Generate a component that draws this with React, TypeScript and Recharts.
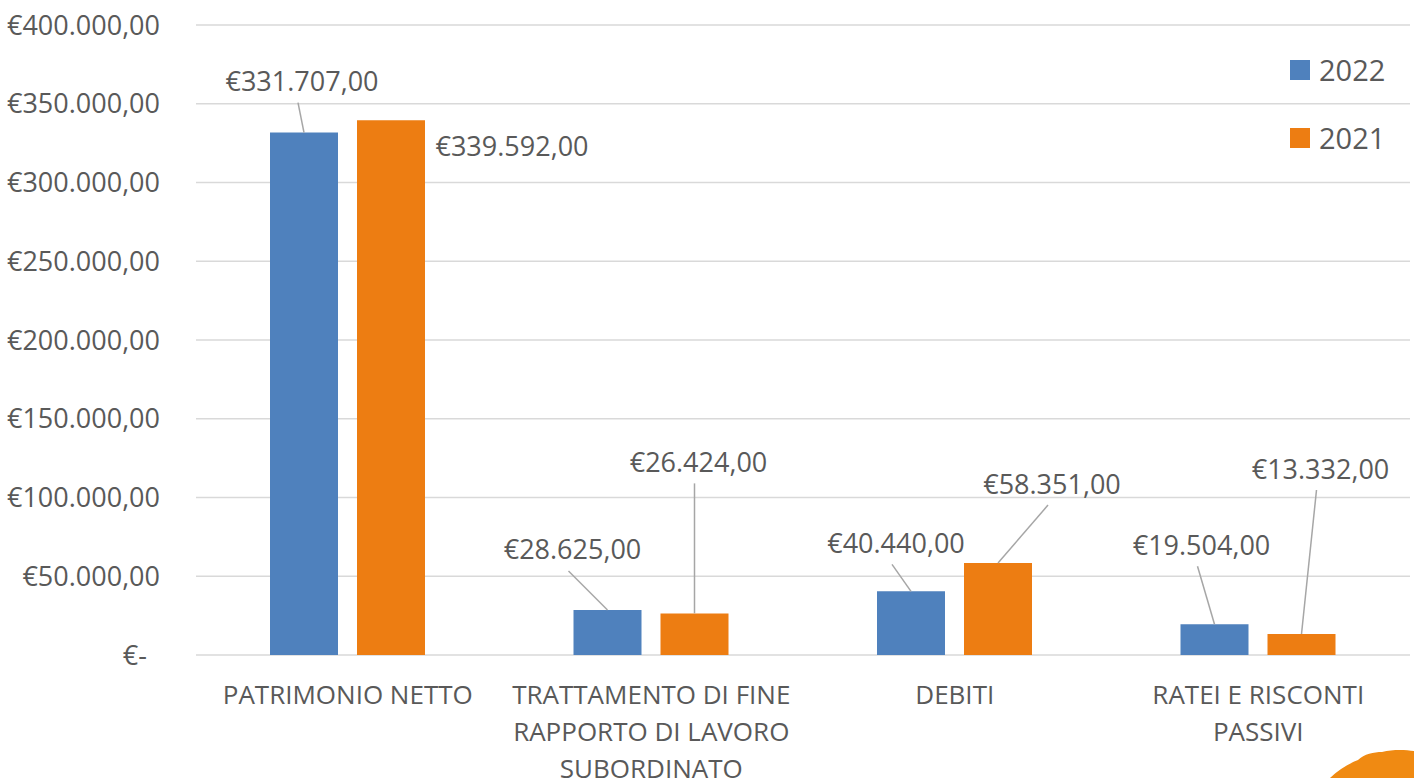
import React from 'react';
import {
  BarChart,
  Bar,
  XAxis,
  YAxis,
  CartesianGrid,
  Legend,
  LabelList,
} from 'recharts';

const categories = [
  'PATRIMONIO NETTO',
  'TRATTAMENTO DI FINE\nRAPPORTO DI LAVORO\nSUBORDINATO',
  'DEBITI',
  'RATEI E RISCONTI\nPASSIVI',
];
const values2022 = [331707, 28625, 40440, 19504];
const values2021 = [339592, 26424, 58351, 13332];
const yTicks = [0, 50000, 100000, 150000, 200000, 250000, 300000, 350000, 400000];
const seriesNames = ['2022', '2021'];

// where Excel put the data labels, relative to the top centre of each bar
const labelPos2022 = [
  { dx: -2, dy: -51, leader: true },
  { dx: -35, dy: -60, leader: true },
  { dx: -15, dy: -48, leader: true },
  { dx: -13, dy: -79, leader: true },
];
const labelPos2021 = [
  { dx: 121, dy: 26, leader: false },
  { dx: 4, dy: -151, leader: true },
  { dx: 54, dy: -79, leader: true },
  { dx: 19, dy: -165, leader: true },
];

const BLUE = '#4f81bd';
const ORANGE = '#ed7d12';
const TEXT = '#595959';
const FONT = '"Open Sans", sans-serif';
const FS = 27;

const data = categories.map((c, i) => ({
  name: c,
  y2022: values2022[i],
  y2021: values2021[i],
}));

function euro(v: number) {
  if (v === 0) return '€-';
  const s = Math.round(v).toString().replace(/\B(?=(\d{3})+(?!\d))/g, '.');
  return '€' + s + ',00';
}

const makeLabel = (pos: { dx: number; dy: number; leader: boolean }[]) => (props: any) => {
  const { x, y, width, value, index } = props;
  const p = pos[index];
  if (!p) return null;
  const bx = Number(x) + Number(width) / 2;
  const by = Number(y);
  const cx = bx + p.dx;
  const cy = by + p.dy;
  return (
    <g>
      {p.leader && (
        <line x1={cx - 4} y1={cy + 21} x2={bx} y2={by} stroke="#a6a6a6" strokeWidth={1.5} />
      )}
      <text x={cx} y={cy + 9.5} textAnchor="middle" fill={TEXT} fontSize={FS} fontFamily={FONT}>
        {euro(Number(value))}
      </text>
    </g>
  );
};

const YTick = (props: any) => {
  const { x, y, payload } = props;
  const v = payload.value;
  return (
    <text
      x={x - (v === 0 ? 13 : 0)}
      y={y + 9.5}
      textAnchor="end"
      fill={TEXT}
      fontSize={FS}
      fontFamily={FONT}
    >
      {euro(v)}
    </text>
  );
};

const XTick = (props: any) => {
  const { x, y, payload } = props;
  const lines = String(payload.value).split('\n');
  return (
    <g>
      {lines.map((l, i) => (
        <text
          key={i}
          x={x}
          y={y + 38 + 9 + i * 37}
          textAnchor="middle"
          fill={TEXT}
          fontSize={26}
          fontFamily={FONT}
        >
          {l}
        </text>
      ))}
    </g>
  );
};

const LegendBox = () => (
  <div style={{ fontFamily: FONT, color: TEXT, fontSize: 29 }}>
    {seriesNames.map((n, i) => (
      <div
        key={n}
        style={{ display: 'flex', alignItems: 'center', height: 68, lineHeight: '68px' }}
      >
        <span
          style={{
            display: 'inline-block',
            width: 20,
            height: 20,
            background: i === 0 ? BLUE : ORANGE,
            marginRight: 9,
          }}
        />
        {n}
      </div>
    ))}
  </div>
);

export default function App() {
  return (
    <div style={{ position: 'absolute', left: 0, top: 0, width: 1414, height: 778, background: '#fff', overflow: 'hidden' }}>
      <BarChart
        width={1414}
        height={778}
        data={data}
        margin={{ top: 25, right: 4, bottom: 93, left: 0 }}
        barGap={19}
      >
        <CartesianGrid vertical={false} stroke="#d9d9d9" strokeWidth={1.5} />
        <XAxis
          dataKey="name"
          height={30}
          axisLine={false}
          tickLine={false}
          tickSize={0}
          interval={0}
          tick={<XTick />}
        />
        <YAxis
          width={196}
          domain={[0, 400000]}
          ticks={yTicks}
          axisLine={false}
          tickLine={false}
          tickSize={0}
          tickMargin={36}
          tick={<YTick />}
        />
        <Legend
          layout="vertical"
          align="center"
          verticalAlign="middle"
          wrapperStyle={{ left: 1290, top: 36, width: 120 }}
          content={<LegendBox />}
        />
        <Bar dataKey="y2022" name="2022" fill={BLUE} barSize={68} isAnimationActive={false}>
          <LabelList dataKey="y2022" content={makeLabel(labelPos2022)} />
        </Bar>
        <Bar dataKey="y2021" name="2021" fill={ORANGE} barSize={68} isAnimationActive={false}>
          <LabelList dataKey="y2021" content={makeLabel(labelPos2021)} />
        </Bar>
      </BarChart>
      <svg
        width={90}
        height={30}
        style={{ position: 'absolute', left: 1324, top: 748 }}
      >
        <path
          d="M6 30 C 14 22, 24 16, 34 12 C 40 6, 50 4, 58 4 C 70 1, 82 2, 90 3 L 90 30 Z"
          fill="#f08a12"
        />
      </svg>
    </div>
  );
}
